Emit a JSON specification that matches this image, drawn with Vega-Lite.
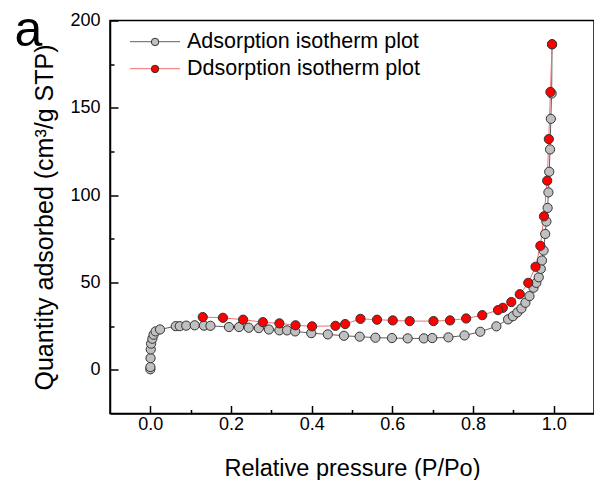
{
  "$schema": "https://vega.github.io/schema/vega-lite/v6.json",
  "width": 484,
  "height": 393,
  "autosize": "none",
  "padding": {"left": 110, "top": 20.5, "right": 0, "bottom": 66.5},
  "background": "white",
  "config": {
    "font": "Liberation Sans",
    "view": {"stroke": "black", "strokeWidth": 1.5},
    "axis": {"grid": false, "domainColor": "black", "domainWidth": 1.5, "tickColor": "black", "tickWidth": 1.5, "labelColor": "black", "titleColor": "black", "labelFont": "Liberation Sans", "titleFont": "Liberation Sans", "titleFontWeight": "normal"},
    "legend": {"labelFont": "Liberation Sans", "labelColor": "black", "labelLimit": 400}
  },
  "data": {"values": [
    {"series": "Adsorption isotherm plot", "pressure": 0.0000, "quantity": 0.3},
    {"series": "Adsorption isotherm plot", "pressure": 0.0002, "quantity": 1.6},
    {"series": "Adsorption isotherm plot", "pressure": 0.0005, "quantity": 6.7},
    {"series": "Adsorption isotherm plot", "pressure": 0.001, "quantity": 11.7},
    {"series": "Adsorption isotherm plot", "pressure": 0.002, "quantity": 15.0},
    {"series": "Adsorption isotherm plot", "pressure": 0.005, "quantity": 17.8},
    {"series": "Adsorption isotherm plot", "pressure": 0.008, "quantity": 20.1},
    {"series": "Adsorption isotherm plot", "pressure": 0.013, "quantity": 22.0},
    {"series": "Adsorption isotherm plot", "pressure": 0.024, "quantity": 23.1},
    {"series": "Adsorption isotherm plot", "pressure": 0.063, "quantity": 25.0},
    {"series": "Adsorption isotherm plot", "pressure": 0.073, "quantity": 25.0},
    {"series": "Adsorption isotherm plot", "pressure": 0.089, "quantity": 25.3},
    {"series": "Adsorption isotherm plot", "pressure": 0.110, "quantity": 25.5},
    {"series": "Adsorption isotherm plot", "pressure": 0.133, "quantity": 25.3},
    {"series": "Adsorption isotherm plot", "pressure": 0.149, "quantity": 25.2},
    {"series": "Adsorption isotherm plot", "pressure": 0.195, "quantity": 24.5},
    {"series": "Adsorption isotherm plot", "pressure": 0.220, "quantity": 24.5},
    {"series": "Adsorption isotherm plot", "pressure": 0.244, "quantity": 24.1},
    {"series": "Adsorption isotherm plot", "pressure": 0.269, "quantity": 23.9},
    {"series": "Adsorption isotherm plot", "pressure": 0.294, "quantity": 23.1},
    {"series": "Adsorption isotherm plot", "pressure": 0.320, "quantity": 22.6},
    {"series": "Adsorption isotherm plot", "pressure": 0.339, "quantity": 22.6},
    {"series": "Adsorption isotherm plot", "pressure": 0.359, "quantity": 22.0},
    {"series": "Adsorption isotherm plot", "pressure": 0.399, "quantity": 21.0},
    {"series": "Adsorption isotherm plot", "pressure": 0.440, "quantity": 20.3},
    {"series": "Adsorption isotherm plot", "pressure": 0.480, "quantity": 19.5},
    {"series": "Adsorption isotherm plot", "pressure": 0.519, "quantity": 19.0},
    {"series": "Adsorption isotherm plot", "pressure": 0.558, "quantity": 18.4},
    {"series": "Adsorption isotherm plot", "pressure": 0.599, "quantity": 18.2},
    {"series": "Adsorption isotherm plot", "pressure": 0.638, "quantity": 18.0},
    {"series": "Adsorption isotherm plot", "pressure": 0.678, "quantity": 18.0},
    {"series": "Adsorption isotherm plot", "pressure": 0.699, "quantity": 18.2},
    {"series": "Adsorption isotherm plot", "pressure": 0.739, "quantity": 18.6},
    {"series": "Adsorption isotherm plot", "pressure": 0.779, "quantity": 19.7},
    {"series": "Adsorption isotherm plot", "pressure": 0.818, "quantity": 21.8},
    {"series": "Adsorption isotherm plot", "pressure": 0.858, "quantity": 24.9},
    {"series": "Adsorption isotherm plot", "pressure": 0.887, "quantity": 28.9},
    {"series": "Adsorption isotherm plot", "pressure": 0.899, "quantity": 30.7},
    {"series": "Adsorption isotherm plot", "pressure": 0.910, "quantity": 32.9},
    {"series": "Adsorption isotherm plot", "pressure": 0.920, "quantity": 35.1},
    {"series": "Adsorption isotherm plot", "pressure": 0.930, "quantity": 38.4},
    {"series": "Adsorption isotherm plot", "pressure": 0.940, "quantity": 42.2},
    {"series": "Adsorption isotherm plot", "pressure": 0.950, "quantity": 47.0},
    {"series": "Adsorption isotherm plot", "pressure": 0.957, "quantity": 49.8},
    {"series": "Adsorption isotherm plot", "pressure": 0.963, "quantity": 53.0},
    {"series": "Adsorption isotherm plot", "pressure": 0.968, "quantity": 57.8},
    {"series": "Adsorption isotherm plot", "pressure": 0.971, "quantity": 62.6},
    {"series": "Adsorption isotherm plot", "pressure": 0.975, "quantity": 68.3},
    {"series": "Adsorption isotherm plot", "pressure": 0.979, "quantity": 77.8},
    {"series": "Adsorption isotherm plot", "pressure": 0.982, "quantity": 84.9},
    {"series": "Adsorption isotherm plot", "pressure": 0.985, "quantity": 92.7},
    {"series": "Adsorption isotherm plot", "pressure": 0.987, "quantity": 101.6},
    {"series": "Adsorption isotherm plot", "pressure": 0.989, "quantity": 113.4},
    {"series": "Adsorption isotherm plot", "pressure": 0.991, "quantity": 126.2},
    {"series": "Adsorption isotherm plot", "pressure": 0.993, "quantity": 143.7},
    {"series": "Adsorption isotherm plot", "pressure": 0.995, "quantity": 158.2},
    {"series": "Adsorption isotherm plot", "pressure": 0.996, "quantity": 186.4},
    {"series": "Ddsorption isotherm plot", "pressure": 0.996, "quantity": 186.4},
    {"series": "Ddsorption isotherm plot", "pressure": 0.992, "quantity": 159.1},
    {"series": "Ddsorption isotherm plot", "pressure": 0.988, "quantity": 132.1},
    {"series": "Ddsorption isotherm plot", "pressure": 0.984, "quantity": 108.3},
    {"series": "Ddsorption isotherm plot", "pressure": 0.976, "quantity": 87.9},
    {"series": "Ddsorption isotherm plot", "pressure": 0.967, "quantity": 71.0},
    {"series": "Ddsorption isotherm plot", "pressure": 0.955, "quantity": 59.0},
    {"series": "Ddsorption isotherm plot", "pressure": 0.937, "quantity": 49.8},
    {"series": "Ddsorption isotherm plot", "pressure": 0.916, "quantity": 43.3},
    {"series": "Ddsorption isotherm plot", "pressure": 0.895, "quantity": 38.8},
    {"series": "Ddsorption isotherm plot", "pressure": 0.874, "quantity": 35.5},
    {"series": "Ddsorption isotherm plot", "pressure": 0.862, "quantity": 34.2},
    {"series": "Ddsorption isotherm plot", "pressure": 0.823, "quantity": 31.3},
    {"series": "Ddsorption isotherm plot", "pressure": 0.783, "quantity": 29.4},
    {"series": "Ddsorption isotherm plot", "pressure": 0.743, "quantity": 28.3},
    {"series": "Ddsorption isotherm plot", "pressure": 0.702, "quantity": 27.9},
    {"series": "Ddsorption isotherm plot", "pressure": 0.643, "quantity": 27.9},
    {"series": "Ddsorption isotherm plot", "pressure": 0.601, "quantity": 28.3},
    {"series": "Ddsorption isotherm plot", "pressure": 0.562, "quantity": 28.7},
    {"series": "Ddsorption isotherm plot", "pressure": 0.521, "quantity": 29.2},
    {"series": "Ddsorption isotherm plot", "pressure": 0.483, "quantity": 26.2},
    {"series": "Ddsorption isotherm plot", "pressure": 0.459, "quantity": 25.2},
    {"series": "Ddsorption isotherm plot", "pressure": 0.401, "quantity": 24.9},
    {"series": "Ddsorption isotherm plot", "pressure": 0.360, "quantity": 25.5},
    {"series": "Ddsorption isotherm plot", "pressure": 0.320, "quantity": 26.6},
    {"series": "Ddsorption isotherm plot", "pressure": 0.279, "quantity": 27.3},
    {"series": "Ddsorption isotherm plot", "pressure": 0.230, "quantity": 28.7},
    {"series": "Ddsorption isotherm plot", "pressure": 0.180, "quantity": 29.8},
    {"series": "Ddsorption isotherm plot", "pressure": 0.130, "quantity": 30.2}
  ]},
  "resolve": {"axis": {"x": "independent", "y": "independent"}},
  "layer": [
    {
      "mark": {"type": "line", "strokeWidth": 1},
      "encoding": {
        "x": {"field": "pressure", "type": "quantitative", "scale": {"domain": [-0.1, 1.1], "nice": false, "zero": false},
          "axis": {"orient": "bottom", "title": "Relative pressure (P/Po)", "values": [0, 0.2, 0.4, 0.6, 0.8, 1.0], "format": ".1f", "tickSize": -8, "labelPadding": 10, "labelFontSize": 18, "titleFontSize": 23.5, "titlePadding": 23, "labelFlush": false}},
        "y": {"field": "quantity", "type": "quantitative", "scale": {"domain": [-25, 200], "nice": false, "zero": false},
          "axis": {"orient": "left", "title": "Quantity adsorbed (cm³/g STP)", "values": [0, 50, 100, 150, 200], "tickSize": -8, "labelPadding": 18, "labelFontSize": 18, "titleFontSize": 25, "titlePadding": 12, "labelFlush": false}},
        "color": {"field": "series", "type": "nominal", "scale": {"range": ["#606060", "#f07070"]},
          "legend": {"orient": "none", "legendX": 32, "legendY": 8.2, "title": null, "symbolType": "M-2,0H2", "symbolSize": 625, "symbolStrokeWidth": 1, "labelFontSize": 21.5, "labelOffset": 19, "rowPadding": 3, "padding": 0}}
      }
    },
    {
      "mark": {"type": "circle", "size": 85, "stroke": "#333333", "strokeWidth": 1, "opacity": 1},
      "encoding": {
        "x": {"field": "pressure", "type": "quantitative",
          "axis": {"orient": "top", "offset": -393, "title": null, "values": [0.1, 0.3, 0.5, 0.7, 0.9], "tickSize": 4, "labels": false, "domain": false}},
        "y": {"field": "quantity", "type": "quantitative",
          "axis": {"orient": "right", "offset": -484, "values": [25, 75, 125, 175], "tickSize": 4, "labels": false, "domain": false,
            "title": "a", "titleX": -96, "titleY": 25, "titleAngle": 0, "titleAlign": "left", "titleBaseline": "alphabetic", "titleFontSize": 50, "titleFontWeight": "normal"}},
        "fill": {"field": "series", "type": "nominal", "scale": {"domain": ["Adsorption isotherm plot", "Ddsorption isotherm plot"], "range": ["#c0c0c0", "#ff0000"]},
          "legend": {"orient": "none", "legendX": 34.3, "legendY": 10.7, "title": null, "symbolType": "circle", "symbolSize": 55, "symbolStrokeColor": "#333333", "symbolStrokeWidth": 1, "labelFontSize": 21.5, "labelOffset": 6, "rowPadding": 4, "labelExpr": "''", "padding": 0}}
      }
    }
  ]
}
